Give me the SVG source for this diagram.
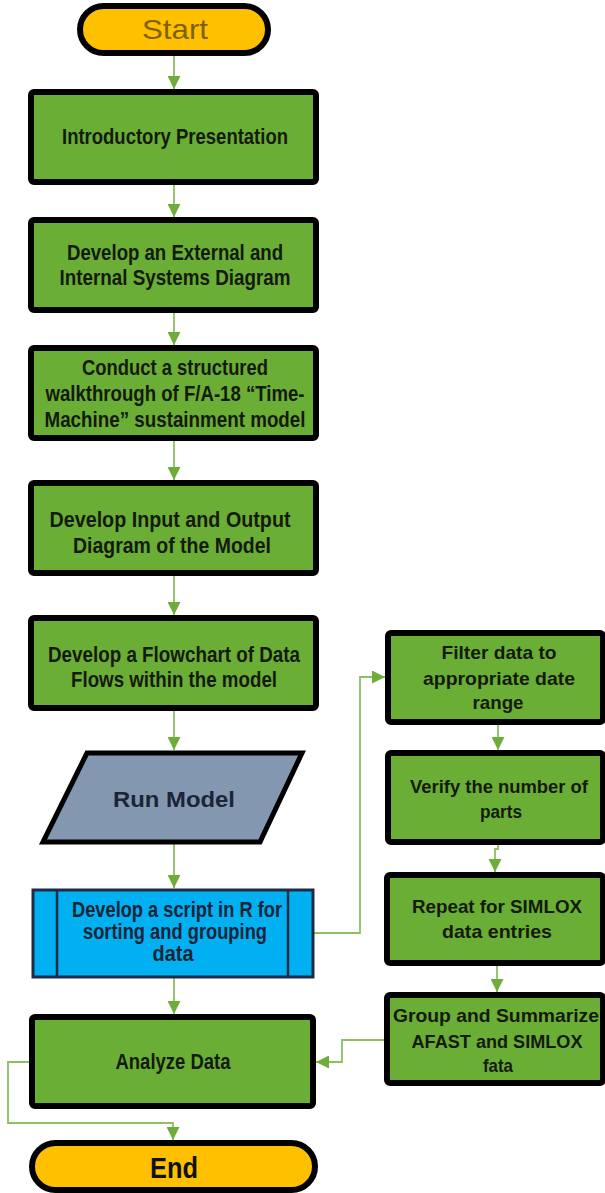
<svg xmlns="http://www.w3.org/2000/svg" width="605" height="1193" viewBox="0 0 605 1193">
  <defs>
    <marker id="arrow" viewBox="0 0 12 12" refX="12" refY="6" markerWidth="13" markerHeight="13" markerUnits="userSpaceOnUse" orient="auto">
      <path d="M0,0 L12,6 L0,12 z" fill="#6EAD3A"/>
    </marker>
    <style>
      .step { fill: #6AAE35; stroke: #000; stroke-width: 6; }
      .term { fill: #FFC000; stroke: #000; stroke-width: 6; }
      .io { fill: #8497B0; stroke: #000; stroke-width: 5; stroke-linejoin: miter; }
      .sub { fill: #00B0F0; stroke: #1F2A44; stroke-width: 3; }
      .sub-line { stroke: #1F2A44; stroke-width: 2.5; }
      .lbl { font-family: "Liberation Sans", Arial, sans-serif; font-weight: bold; font-size: 21.5px; fill: #151A0E; text-anchor: middle; }
      .side .lbl { font-size: 19px; }
      .lbl-dark { fill: #1C2438; }
      .flow { fill: none; stroke: #8CC063; stroke-width: 1.8; marker-end: url(#arrow); }
    </style>
  </defs>

  <rect width="605" height="1193" fill="#FFFFFF"/>

  <!-- connectors -->
  <g id="connectors">
    <path class="flow" d="M174,53 V89"/>
    <path class="flow" d="M174,183 V217"/>
    <path class="flow" d="M174,311 V345"/>
    <path class="flow" d="M174,439 V480"/>
    <path class="flow" d="M174,574 V615"/>
    <path class="flow" d="M174,709 V750"/>
    <path class="flow" d="M174,843 V888"/>
    <path class="flow" d="M174,978 V1014"/>
    <path class="flow" d="M314,933 H360 V677 H385"/>
    <path class="flow" d="M498,723 V750"/>
    <path class="flow" d="M498,843 V849 H495 V872"/>
    <path class="flow" d="M497,964 V992"/>
    <path class="flow" d="M387,1040 H342 V1062 H316"/>
    <path class="flow" d="M32,1062 H8 V1123 H173 V1140"/>
  </g>

  <!-- start -->
  <g id="start">
    <rect class="term" x="80" y="6" width="188" height="47" rx="23.5"/>
    <text x="175" y="39" font-family="Liberation Sans, Arial, sans-serif" font-size="28" fill="#7F6000" text-anchor="middle" textLength="66" lengthAdjust="spacingAndGlyphs">Start</text>
  </g>

  <g id="intro">
    <rect class="step" x="31" y="92" width="285" height="90" rx="3"/>
    <text class="lbl" x="175" y="144" textLength="226" lengthAdjust="spacingAndGlyphs">Introductory Presentation</text>
  </g>

  <g id="systems-diagram">
    <rect class="step" x="31" y="220" width="285" height="90" rx="3"/>
    <text class="lbl" x="175" y="260" textLength="216" lengthAdjust="spacingAndGlyphs">Develop an External and</text>
    <text class="lbl" x="175" y="285" textLength="231" lengthAdjust="spacingAndGlyphs">Internal Systems Diagram</text>
  </g>

  <g id="walkthrough">
    <rect class="step" x="31" y="348" width="285" height="90" rx="3"/>
    <text class="lbl" x="175" y="375" textLength="186" lengthAdjust="spacingAndGlyphs">Conduct a structured</text>
    <text class="lbl" x="175" y="401" textLength="259" lengthAdjust="spacingAndGlyphs">walkthrough of F/A-18 “Time-</text>
    <text class="lbl" x="175" y="427" textLength="261" lengthAdjust="spacingAndGlyphs">Machine” sustainment model</text>
  </g>

  <g id="io-diagram">
    <rect class="step" x="31" y="483" width="285" height="90" rx="3"/>
    <text class="lbl" x="170" y="527" textLength="241" lengthAdjust="spacingAndGlyphs">Develop Input and Output</text>
    <text class="lbl" x="172" y="553" textLength="198" lengthAdjust="spacingAndGlyphs">Diagram of the Model</text>
  </g>

  <g id="flowchart">
    <rect class="step" x="31" y="618" width="285" height="90" rx="3"/>
    <text class="lbl" x="174" y="662" textLength="252" lengthAdjust="spacingAndGlyphs">Develop a Flowchart of Data</text>
    <text class="lbl" x="174" y="687" textLength="206" lengthAdjust="spacingAndGlyphs">Flows within the model</text>
  </g>

  <g id="run-model">
    <polygon class="io" points="87,753 302,753 260,842 43,842"/>
    <text class="lbl lbl-dark" x="174" y="807" font-size="25" font-weight="600" textLength="122" lengthAdjust="spacingAndGlyphs">Run Model</text>
  </g>

  <g id="r-script">
    <rect class="sub" x="33" y="890" width="280" height="87"/>
    <line class="sub-line" x1="57" y1="890" x2="57" y2="977"/>
    <line class="sub-line" x1="288" y1="890" x2="288" y2="977"/>
    <text class="lbl lbl-dark" x="177" y="917" textLength="210" lengthAdjust="spacingAndGlyphs">Develop a script in R for</text>
    <text class="lbl lbl-dark" x="175" y="939" textLength="184" lengthAdjust="spacingAndGlyphs">sorting and grouping</text>
    <text class="lbl lbl-dark" x="173" y="961" textLength="41" lengthAdjust="spacingAndGlyphs">data</text>
  </g>

  <g class="side">
    <g id="filter">
      <rect class="step" x="388" y="633" width="215" height="89" rx="3"/>
      <text class="lbl" x="499" y="659" textLength="115" lengthAdjust="spacingAndGlyphs">Filter data to</text>
      <text class="lbl" x="499" y="685" textLength="152" lengthAdjust="spacingAndGlyphs">appropriate date</text>
      <text class="lbl" x="498" y="709" textLength="51" lengthAdjust="spacingAndGlyphs">range</text>
    </g>

    <g id="verify">
      <rect class="step" x="388" y="753" width="215" height="89" rx="3"/>
      <text class="lbl" x="499" y="793" textLength="178" lengthAdjust="spacingAndGlyphs">Verify the number of</text>
      <text class="lbl" x="501" y="818" textLength="42" lengthAdjust="spacingAndGlyphs">parts</text>
    </g>

    <g id="repeat">
      <rect class="step" x="387" y="875" width="216" height="88" rx="3"/>
      <text class="lbl" x="497" y="913" textLength="170" lengthAdjust="spacingAndGlyphs">Repeat for SIMLOX</text>
      <text class="lbl" x="497" y="938" textLength="110" lengthAdjust="spacingAndGlyphs">data entries</text>
    </g>

    <g id="summarize">
      <rect class="step" x="387" y="995" width="216" height="88" rx="3"/>
      <text class="lbl" x="496" y="1022" textLength="206" lengthAdjust="spacingAndGlyphs">Group and Summarize</text>
      <text class="lbl" x="497" y="1048" textLength="171" lengthAdjust="spacingAndGlyphs">AFAST and SIMLOX</text>
      <text class="lbl" x="498" y="1072" textLength="30" lengthAdjust="spacingAndGlyphs">fata</text>
    </g>
  </g>

  <g id="analyze">
    <rect class="step" x="32" y="1017" width="281" height="89" rx="3"/>
    <text class="lbl" x="173" y="1069" textLength="115" lengthAdjust="spacingAndGlyphs">Analyze Data</text>
  </g>

  <g id="end">
    <rect class="term" x="32" y="1143" width="283" height="47" rx="23.5"/>
    <text x="174" y="1178" font-family="Liberation Sans, Arial, sans-serif" font-weight="bold" font-size="29" fill="#111" text-anchor="middle" textLength="48" lengthAdjust="spacingAndGlyphs">End</text>
  </g>
</svg>
